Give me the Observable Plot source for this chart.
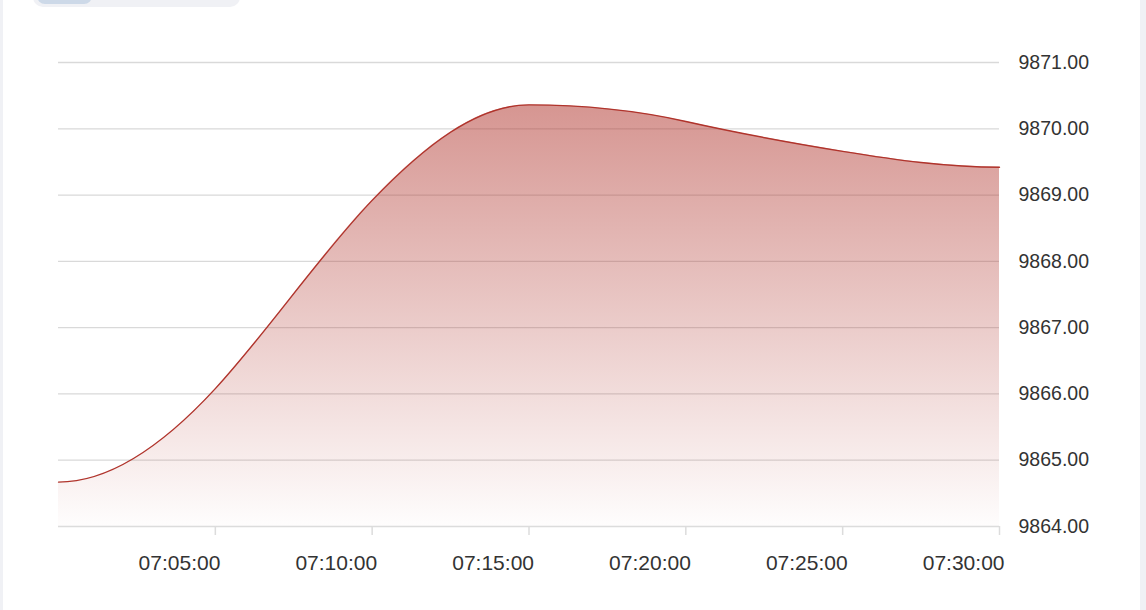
<!DOCTYPE html>
<html>
<head>
<meta charset="utf-8">
<script src="https://cdn.jsdelivr.net/npm/d3@7"></script>
<script src="https://cdn.jsdelivr.net/npm/@observablehq/plot@0.6"></script>
<style>
  html, body { margin: 0; padding: 0; background: #fff; width: 1146px; height: 610px; overflow: hidden; position: relative; font-family: "Liberation Sans", Arial, Helvetica, sans-serif; }
  #leftStrip { position: absolute; left: 0; top: 0; width: 3px; height: 610px; background: #f0f1f5; }
  #rightStrip { position: absolute; right: 0; top: 0; width: 6px; height: 610px; background: #f0f1f5; }
  #tabs { position: absolute; left: 33px; top: -14px; width: 207px; height: 21px; border-radius: 10px; background: #f0f1f5; }
  #tabActive { position: absolute; left: 4px; top: 0; width: 55px; height: 18px; border-radius: 8px; background: #cdd9e8; }
  #chart { position: absolute; left: 0; top: 0; }
</style>
</head>
<body>
<div id="leftStrip"></div>
<div id="rightStrip"></div>
<div id="tabs"><div id="tabActive"></div></div>
<div id="chart"></div>
<script>
// Data
const times = ["07:00", "07:05", "07:10", "07:15", "07:20", "07:25", "07:30"];
const prices = [9864.67, 9866.08, 9868.92, 9870.36, 9870.11, 9869.66, 9869.42];
const xTickLabels = ["07:05:00", "07:10:00", "07:15:00", "07:20:00", "07:25:00", "07:30:00"];
const yTicks = [9864, 9865, 9866, 9867, 9868, 9869, 9870, 9871];

const toDate = (hm) => new Date(`2024-01-01T${hm}:00Z`);
const data = times.map((t, i) => ({ time: toDate(t), price: prices[i] }));
const xTicks = xTickLabels.map(s => new Date(`2024-01-01T${s}Z`));
const gridTicks = yTicks.slice(1);

const lineColor = "#b0342c";

// Smooth curve: clamped cubic spline (flat ends), flat at local extrema
function SplineCurve(context) { this._context = context; }
SplineCurve.prototype = {
  areaStart() { this._line = 0; },
  areaEnd() { this._line = NaN; },
  lineStart() { this._x = []; this._y = []; },
  point(x, y) { this._x.push(+x); this._y.push(+y); },
  lineEnd() {
    const xs = this._x, ys = this._y, n = xs.length, c = this._context;
    if (n) {
      if (this._line) c.lineTo(xs[0], ys[0]); else c.moveTo(xs[0], ys[0]);
      if (n === 2) c.lineTo(xs[1], ys[1]);
      else if (n > 2) {
        const h = [], s = [];
        for (let i = 0; i < n - 1; i++) { h[i] = xs[i + 1] - xs[i]; s[i] = (ys[i + 1] - ys[i]) / h[i]; }
        const m = new Array(n).fill(0);
        const k = n - 2;
        const a = [], b = [], cc = [], d = [];
        for (let j = 0; j < k; j++) {
          const i = j + 1;
          a[j] = 1 / h[i - 1];
          b[j] = 2 * (1 / h[i - 1] + 1 / h[i]);
          cc[j] = 1 / h[i];
          d[j] = 3 * (s[i - 1] / h[i - 1] + s[i] / h[i]);
        }
        const cp = [], dp = [];
        for (let j = 0; j < k; j++) {
          const den = b[j] - (j ? a[j] * cp[j - 1] : 0);
          cp[j] = cc[j] / den;
          dp[j] = (d[j] - (j ? a[j] * dp[j - 1] : 0)) / den;
        }
        for (let j = k - 1; j >= 0; j--) m[j + 1] = dp[j] - (j < k - 1 ? cp[j] * m[j + 2] : 0);
        for (let i = 1; i < n - 1; i++) if (s[i - 1] * s[i] <= 0) m[i] = 0;
        for (let i = 0; i < n - 1; i++) {
          const dx = h[i] / 3;
          c.bezierCurveTo(xs[i] + dx, ys[i] + dx * m[i], xs[i + 1] - dx, ys[i + 1] - dx * m[i + 1], xs[i + 1], ys[i + 1]);
        }
      }
    }
    if (this._line || (this._line !== 0 && n === 1)) c.closePath();
    this._line = 1 - this._line;
  }
};
const smoothCurve = (ctx) => new SplineCurve(ctx);

const gradientDefs = () => {
  const defs = d3.create("svg:defs");
  const g = defs.append("linearGradient")
    .attr("id", "areaGrad")
    .attr("x1", 0).attr("y1", 0).attr("x2", 0).attr("y2", 1);
  g.append("stop").attr("offset", "0%").attr("stop-color", lineColor).attr("stop-opacity", 0.52);
  g.append("stop").attr("offset", "100%").attr("stop-color", lineColor).attr("stop-opacity", 0.01);
  return defs.node();
};

const chart = Plot.plot({
  width: 1146,
  height: 610,
  marginLeft: 58,
  marginRight: 147,
  marginTop: 62,
  marginBottom: 84,
  style: { fontFamily: "'Liberation Sans', Arial, Helvetica, sans-serif", fontSize: "19.5px", color: "#333", background: "transparent" },
  x: { type: "utc", domain: [toDate("07:00"), toDate("07:30")] },
  y: { domain: [9864, 9871] },
  marks: [
    gradientDefs,
    Plot.ruleY(gridTicks, { stroke: "#d9d9d9", strokeWidth: 1.3 }),
    Plot.areaY(data, { x: "time", y1: 9864, y2: "price", curve: smoothCurve, fill: "url(#areaGrad)" }),
    Plot.ruleY([9864], { stroke: "#dcdcdc", strokeWidth: 1.5 }),
    Plot.lineY(data, { x: "time", y: "price", curve: smoothCurve, stroke: lineColor, strokeWidth: 1.4 }),
    Plot.axisX({
      ticks: xTicks,
      tickSize: 9,
      stroke: "#dcdcdc",
      strokeWidth: 1.5,
      text: null,
      label: null
    }),
    Plot.text(xTicks, {
      x: d => d,
      text: d3.utcFormat("%H:%M:%S"),
      frameAnchor: "bottom",
      dy: 43,
      dx: 5,
      textAnchor: "end",
      fontSize: 21,
      fill: "#333"
    }),
    Plot.axisY({
      anchor: "right",
      ticks: yTicks,
      tickFormat: d => d.toFixed(2),
      tickSize: 0,
      tickPadding: 19,
      fill: "#333",
      label: null
    })
  ]
});

document.getElementById("chart").appendChild(chart);
</script>
</body>
</html>
